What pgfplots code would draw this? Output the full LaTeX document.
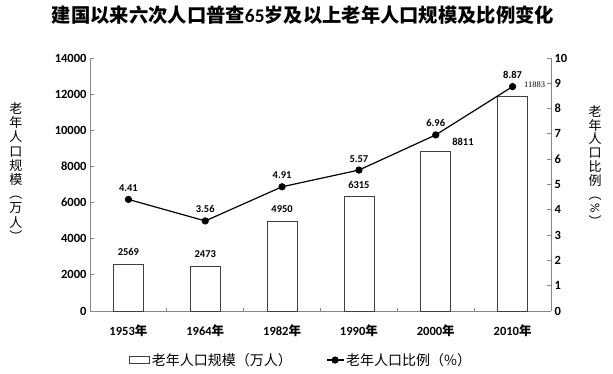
\documentclass[border=0pt]{standalone}
\usepackage{pgfplots}
\pgfplotsset{compat=1.18}
\usepackage{graphicx}
\usepackage{fontspec}
\setmainfont{Carlito}
\newfontfamily\cjk{Noto Sans CJK SC}
\newfontfamily\smallserif{Liberation Serif}
\definecolor{axgray}{HTML}{868686}
\definecolor{bardraw}{HTML}{404040}
\begin{document}
\begin{tikzpicture}[x=1pt,y=1pt]
\useasboundingbox (0,0) rectangle (613,374);
\node[font=\cjk\bfseries\fontsize{19.3}{19.3}\selectfont] at (303,359) {建国以来六次人口普查{\normalfont\bfseries 65}岁及以上老年人口规模及比例变化};
\node[font=\cjk\fontsize{13}{14.2}\selectfont, align=center, text width=14pt] at (16,202) {老\\年\\人\\口\\规\\模\\︵\\万\\人\\︶};
\node[font=\cjk\fontsize{13}{13.8}\selectfont, align=center, text width=14pt] at (595,208) {老\\年\\人\\口\\比\\例\\︵\\\rotatebox[origin=c]{-90}{\normalfont\%}\\︶};

\begin{axis}[
  at={(90pt,63pt)}, anchor=south west, scale only axis,
  width=461pt, height=253pt,
  xmin=-0.5, xmax=5.5, ymin=0, ymax=14000,
  ytick={0,2000,...,14000},
  axis y line*=left, axis x line*=bottom,
  axis line style={axgray, line width=0.8pt},
  xtick={0,...,5},
  minor xtick={0.5,1.5,2.5,3.5,4.5},
  xticklabels={1953{\cjk 年},1964{\cjk 年},1982{\cjk 年},1990{\cjk 年},2000{\cjk 年},2010{\cjk 年}},
  major x tick style={draw=none},
  minor x tick style={axgray, line width=0.8pt},
  minor tick length=3pt,
  ytick style={axgray, line width=0.8pt},
  tick align=inside, major tick length=4pt,
  yticklabel style={font=\bfseries\fontsize{12.5}{12.5}\selectfont},
  xticklabel style={font=\bfseries\fontsize{12.5}{12.5}\selectfont, yshift=-10pt},
  /pgf/number format/assume math mode=true,
  /pgf/number format/1000 sep={},
  scaled y ticks=false,
  clip=false,
]
\addplot[ybar, bar width=30pt, bar shift=0pt, fill=white, draw=bardraw, line width=0.8pt]
  coordinates {(0,2569) (1,2473) (2,4950) (3,6315) (4,8811) (5,11883)};
\addplot[draw=none, mark=none, nodes near coords, point meta=y,
  nodes near coords style={font=\bfseries\fontsize{10.5}{10.5}\selectfont, anchor=south, yshift=5pt}]
  coordinates {(0,2569) (1,2473) (2,4950) (3,6315)};
\addplot[draw=none, mark=none, nodes near coords, point meta=y,
  nodes near coords style={font=\bfseries\fontsize{10.5}{10.5}\selectfont, anchor=south west, xshift=13pt, yshift=3pt}]
  coordinates {(4,8811)};
\addplot[draw=none, mark=none, nodes near coords, point meta=y,
  nodes near coords style={font=\smallserif\fontsize{8.5}{8.5}\selectfont, anchor=west, xshift=8pt, yshift=12pt}]
  coordinates {(5,11883)};
\end{axis}

\begin{axis}[
  at={(90pt,63pt)}, anchor=south west, scale only axis,
  width=461pt, height=253pt,
  xmin=-0.5, xmax=5.5, ymin=0, ymax=10,
  ytick={0,1,...,10},
  axis y line*=right, axis x line=none,
  axis line style={axgray, line width=0.8pt},
  ytick style={axgray, line width=0.8pt},
  tick align=inside, major tick length=4pt,
  yticklabel style={font=\bfseries\fontsize{12.5}{12.5}\selectfont},
  /pgf/number format/assume math mode=true,
  clip=false,
  legend columns=2,
  legend style={at={(0.458,-0.194)}, anchor=center, draw=none, fill=none,
    font=\cjk\fontsize{14}{14}\selectfont,
    /tikz/every even column/.append style={column sep=32pt}},
]
\addlegendimage{legend image code/.code={\draw[bardraw, fill=white, line width=0.8pt] (0pt,-3.5pt) rectangle (20pt,4pt);}}
\addlegendentry{老年人口规模（万人）}
\addplot[black, line width=1.2pt, mark=*, mark size=3pt, mark options={solid},
  nodes near coords, point meta=y,
  nodes near coords style={font=\bfseries\fontsize{10.5}{10.5}\selectfont, anchor=south, yshift=4pt,
    /pgf/number format/.cd, fixed, precision=2, fixed zerofill}]
  coordinates {(0,4.41) (1,3.56) (2,4.91) (3,5.57) (4,6.96) (5,8.87)};
\addlegendentry{老年人口比例（\%）}
\end{axis}
\end{tikzpicture}
\end{document}
